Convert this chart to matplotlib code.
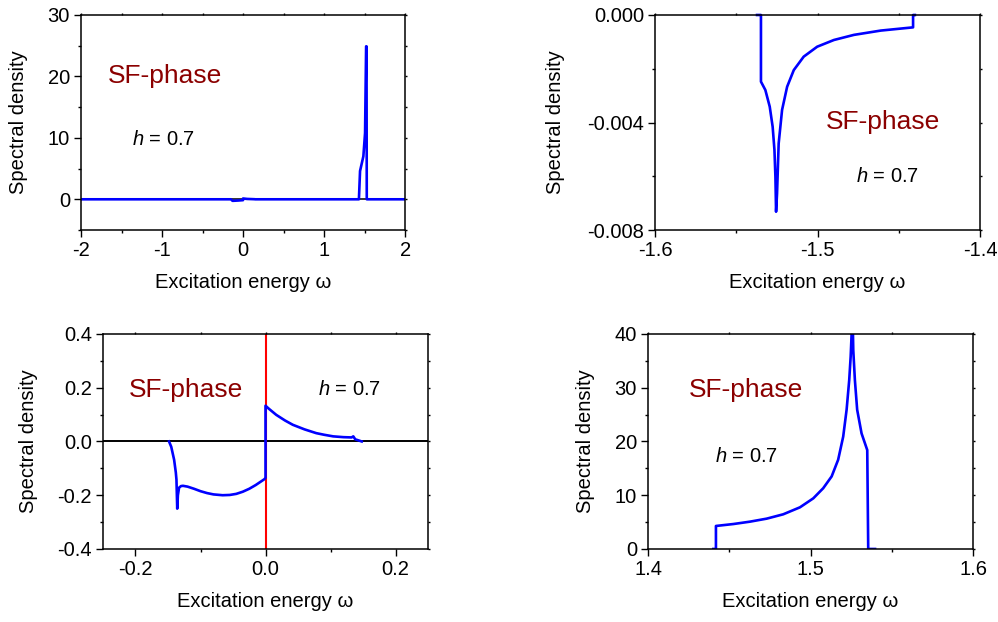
import matplotlib
matplotlib.use('Agg')
import matplotlib.pyplot as plt
from matplotlib.ticker import MultipleLocator, FormatStrFormatter

plt.rcParams['font.family'] = ['Liberation Sans', 'DejaVu Sans']
plt.rcParams['mathtext.fontset'] = 'custom'
plt.rcParams['mathtext.it'] = 'Liberation Sans:italic'
plt.rcParams['mathtext.rm'] = 'Liberation Sans'
plt.rcParams['axes.unicode_minus'] = False

# Panel data
full_w = [-2.0, -0.15, -0.13, -0.06, 0.0, 0.0, 0.05, 0.14, 0.15, 1.43, 1.444, 1.485, 1.506, 1.519, 1.524, 1.527, 2.0]
full_s = [0, 0, -0.25, -0.2, -0.14, 0.13, 0.06, 0.015, 0, 0, 4.6, 7.0, 10.8, 24.9, 24.9, 0, 0]

neg_w = [-1.5372, -1.5348, -1.5348, -1.5321, -1.5294, -1.5276, -1.5265, -1.5259, -1.5255,
         -1.5249, -1.5239, -1.5218, -1.5187, -1.5146, -1.5085, -1.5002, -1.4899, -1.4776,
         -1.4611, -1.4412, -1.4412, -1.4401]
neg_s = [0, 0, -0.00248, -0.00279, -0.00341, -0.00416, -0.00502, -0.00602, -0.00732,
         -0.00664, -0.00478, -0.00353, -0.00267, -0.00205, -0.00155, -0.00118, -0.00093, -0.00074,
         -0.00058, -0.00046, 0, 0]

low_w = [-0.1484, -0.145, -0.1406, -0.138, -0.137, -0.1358, -0.1348, -0.133, -0.130, -0.127,
         -0.12, -0.11, -0.10, -0.09, -0.08, -0.066, -0.055, -0.045, -0.035, -0.025, -0.015,
         -0.0015, 0.0, 0.0, 0.005, 0.0165, 0.03, 0.042, 0.06, 0.078, 0.09, 0.104, 0.12, 0.1325,
         0.135, 0.138, 0.148]
low_s = [0, -0.02, -0.068, -0.115, -0.142, -0.25, -0.2, -0.172, -0.166, -0.165,
         -0.168, -0.176, -0.185, -0.192, -0.197, -0.2, -0.199, -0.195, -0.187, -0.176, -0.162,
         -0.14, -0.135, 0.133, 0.122, 0.099, 0.078, 0.062, 0.045, 0.031, 0.025, 0.019, 0.016,
         0.015, 0.019, 0.008, 0]

pos_w = [1.4402, 1.4418, 1.4418, 1.4525, 1.4627, 1.4730, 1.4832, 1.4935, 1.5017, 1.5078,
         1.5130, 1.5170, 1.5201, 1.5222, 1.5238, 1.5247, 1.5253, 1.5256, 1.5263, 1.5273,
         1.5287, 1.5314, 1.5349, 1.5355, 1.5397]
pos_s = [0, 0, 4.28, 4.64, 5.08, 5.64, 6.45, 7.75, 9.42, 11.3,
         13.5, 16.6, 20.9, 25.9, 31.4, 35.8, 40.1, 48.0, 37.0, 31.4,
         25.9, 21.5, 18.4, 0, 0]

BLUE = '#0000FF'
DARKRED = '#8B0000'

fig = plt.figure(figsize=(9.98, 6.22), dpi=100)

ax1 = fig.add_axes([0.0812, 0.6302, 0.3247, 0.3457])
ax2 = fig.add_axes([0.6563, 0.6302, 0.3257, 0.3457])
ax3 = fig.add_axes([0.1032, 0.1174, 0.3257, 0.3457])
ax4 = fig.add_axes([0.6493, 0.1174, 0.3257, 0.3457])


def style(ax, xlim, ylim, xmaj, xmin, ymaj, ymin, ylab_x):
    ax.set_xlim(*xlim)
    ax.set_ylim(*ylim)
    ax.xaxis.set_major_locator(MultipleLocator(xmaj))
    ax.xaxis.set_minor_locator(MultipleLocator(xmin))
    ax.yaxis.set_major_locator(MultipleLocator(ymaj))
    ax.yaxis.set_minor_locator(MultipleLocator(ymin))
    for sp in ax.spines.values():
        sp.set_linewidth(1.1)
    ax.tick_params(which='major', direction='out', length=5, width=1.0, labelsize=14.5, pad=3)
    ax.tick_params(which='minor', direction='out', length=2.5, width=1.0)
    ax.tick_params(which='both', top=True, right=True)
    # short ticks on the top and right spines
    for t in ax.xaxis.get_majorticklines()[1::2] + ax.xaxis.get_minorticklines()[1::2]:
        t.set_markersize(1.5)
    for t in ax.yaxis.get_majorticklines()[1::2] + ax.yaxis.get_minorticklines()[1::2]:
        t.set_markersize(1.5)
    ax.set_xlabel('Excitation energy ω', fontsize=14.5)
    ax.set_ylabel('Spectral density', fontsize=14.5)
    ax.xaxis.set_label_coords(0.5, -0.2)
    ax.yaxis.set_label_coords(ylab_x, 0.5)


# top left: full range
ax1.axhline(0, color='black', lw=1.1, zorder=1)
ax1.plot(full_w, full_s, color=BLUE, lw=1.9, zorder=2)
style(ax1, (-2, 2), (-5, 30), 1, 0.5, 10, 5, -0.164)
ax1.text(-1.67, 20, 'SF-phase', color=DARKRED, fontsize=19, va='center', ha='left')
ax1.text(-1.375, 9.7, '$h$ = 0.7', fontsize=14.5, va='center', ha='left')

# top right: negative branch
ax2.plot(neg_w, neg_s, color=BLUE, lw=1.9, clip_on=False)
style(ax2, (-1.6, -1.4), (-0.008, 0.0), 0.1, 0.05, 0.004, 0.002, -0.277)
ax2.yaxis.set_major_formatter(FormatStrFormatter('%.3f'))
ax2.text(-1.495, -0.00397, 'SF-phase', color=DARKRED, fontsize=19, va='center', ha='left')
ax2.text(-1.4765, -0.00602, '$h$ = 0.7', fontsize=14.5, va='center', ha='left')

# bottom left: low energy
ax3.axhline(0, color='black', lw=1.4, zorder=1)
ax3.axvline(0, color='red', lw=1.5, zorder=1)
ax3.plot(low_w, low_s, color=BLUE, lw=1.9, zorder=2)
style(ax3, (-0.25, 0.25), (-0.4, 0.4), 0.2, 0.1, 0.2, 0.1, -0.2)
ax3.xaxis.set_major_formatter(FormatStrFormatter('%.1f'))
ax3.yaxis.set_major_formatter(FormatStrFormatter('%.1f'))
ax3.text(-0.21, 0.192, 'SF-phase', color=DARKRED, fontsize=19, va='center', ha='left')
ax3.text(0.081, 0.192, '$h$ = 0.7', fontsize=14.5, va='center', ha='left')

# bottom right: positive branch
ax4.plot(pos_w, pos_s, color=BLUE, lw=1.9)
style(ax4, (1.4, 1.6), (0, 40), 0.1, 0.05, 10, 5, -0.163)
ax4.text(1.4254, 29.6, 'SF-phase', color=DARKRED, fontsize=19, va='center', ha='left')
ax4.text(1.441, 17.2, '$h$ = 0.7', fontsize=14.5, va='center', ha='left')

fig.savefig('out.png', dpi=100)
